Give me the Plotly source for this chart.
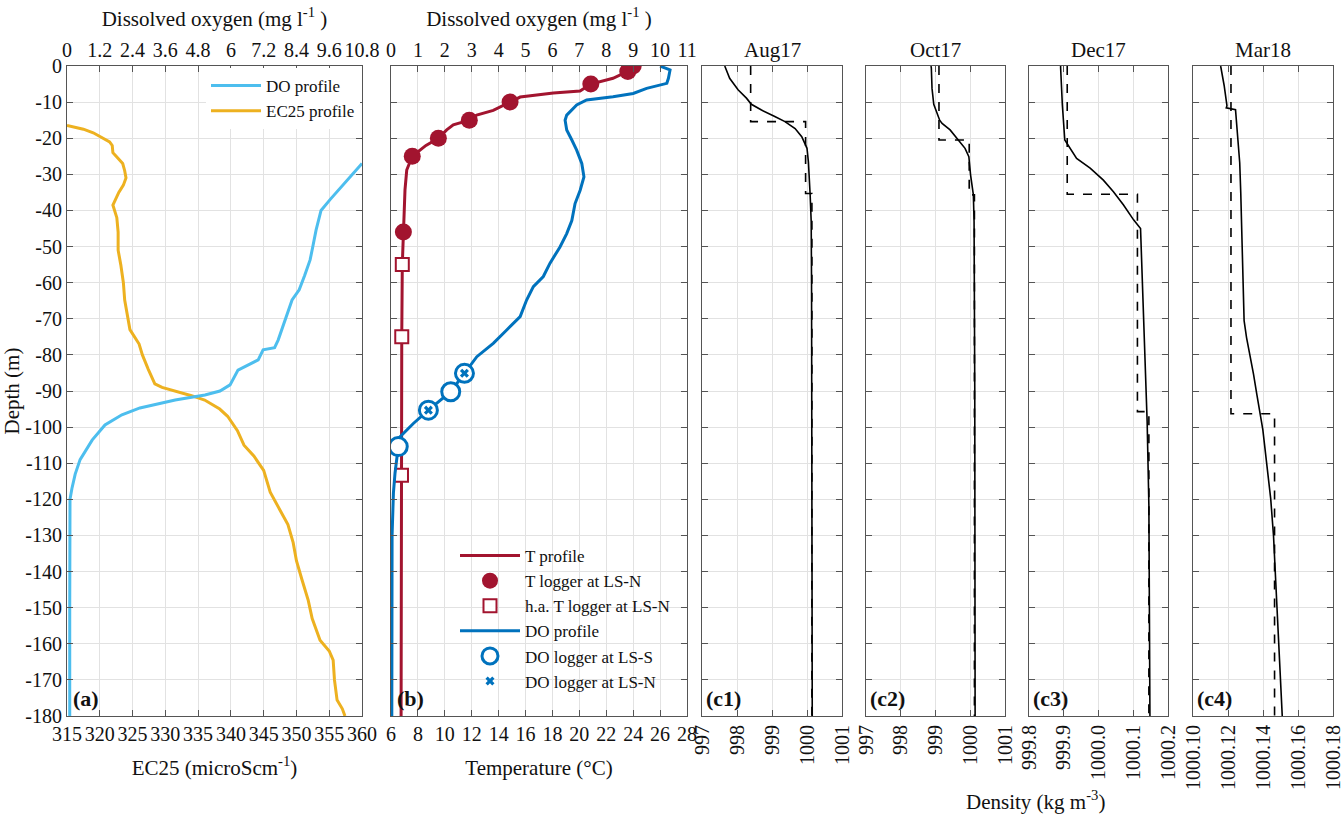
import plotly.graph_objects as go

W, H = 1343, 820
FONT = "Liberation Serif, Times New Roman, Times, serif"

# ---------------- Panel (a) data ----------------
a_do_depth = [-27, -30, -33, -37, -40, -45.4, -50, -53.7, -58, -62, -64.8, -70, -75.9, -78, -78.6,
              -81.4, -84.2, -88.3, -90, -91.1, -92.5, -94.7, -96.6, -99.4, -103.6, -109, -113, -117,
              -120, -150, -180]
a_do_val = [10.8, 10.44, 10.1, 9.63, 9.3, 9.12, 9.0, 8.9, 8.7, 8.5, 8.24, 8.0, 7.73, 7.6, 7.18,
            7.0, 6.26, 5.97, 5.6, 5.05, 3.96, 2.67, 2.01, 1.39, 0.92, 0.48, 0.3, 0.18,
            0.11, 0.1, 0.1]

a_ec_depth = [-16.5, -17.5, -18.5, -20, -21, -22, -24, -25, -27, -29, -31, -33, -35, -38.5, -42,
              -46, -51, -55, -60, -64.8, -70, -73, -77, -80, -84, -88, -89, -90, -91.3, -92.5,
              -95, -97, -101, -105, -108, -112, -118, -123, -127, -132, -137, -142, -148, -153,
              -159, -162, -164.5, -170, -175.6, -178, -180]
a_ec_val = [315, 317.5, 319, 320.5, 321.5, 321.9, 322, 322.5, 323.5, 323.8, 324, 323.6, 322.9, 322,
            322.6, 322.8, 322.8, 323.2, 323.6, 323.8, 324.3, 324.6, 326, 326.5, 327.4, 328.4,
            329.5, 331.5, 334, 336, 338.3, 339.5, 341, 342, 343.5, 345, 346, 347.5, 348.7, 349.5,
            350, 350.8, 351.8, 352.4, 353.6, 355, 355.6, 355.8, 356.2, 357, 357.4]

# ---------------- Panel (b) data ----------------
t_depth = [0, -1.5, -3.4, -5, -6.9, -7.5, -8.6, -10, -12.3, -13.6, -15, -16.3, -17.7, -20, -22,
           -25, -28.8, -34.3, -41.7, -46, -55, -75, -113, -150, -180]
t_val = [23.9, 23.6, 22.5, 20.85, 20.05, 18.07, 15.6, 14.85, 13.6, 12.37, 11.82, 10.63, 10.14,
         9.52, 8.6, 7.58, 7.17, 7.04, 6.97, 6.92, 6.84, 6.8, 6.78, 6.76, 6.75]

tlog_depth = [0, -1.5, -5, -10, -15, -20, -25, -46]
tlog_val = [24.0, 23.6, 20.85, 14.85, 11.82, 9.52, 7.58, 6.92]

hat_depth = [-55, -75, -113.3]
hat_val = [6.84, 6.80, 6.78]

b_do_depth = [0, -1.1, -3.4, -4.8, -6.2, -7.6, -8.5, -9.4, -10.8, -13.6, -15, -17.7, -20.5,
              -23.3, -27, -30.7, -34.4, -38.1, -42.8, -46.4, -50.1, -54.6, -58.3, -61.1, -64.8,
              -69.4, -73.1, -76.8, -80.5, -85.1, -90.2, -95.3, -99, -102.7, -105.4, -112.7,
              -118.2, -130, -180]
b_do_val = [10.0, 10.37, 10.31, 10.25, 9.5, 9.0, 8.25, 7.27, 6.9, 6.53, 6.47, 6.53, 6.72,
            6.9, 7.09, 7.17, 7.03, 6.84, 6.72, 6.53, 6.28, 5.91, 5.66, 5.29, 5.04,
            4.8, 4.3, 3.8, 3.19, 2.73, 2.22, 1.39, 0.83, 0.33, 0.27, 0.15,
            0.09, 0.04, 0.03]

dos_depth = [-85.1, -90.2, -95.3, -105.4]
dos_val = [2.73, 2.22, 1.39, 0.27]
don_depth = [-85.1, -95.3]
don_val = [2.73, 1.39]

# ---------------- Panels (c) data ----------------
c_titles = ["Aug17", "Oct17", "Dec17", "Mar18"]
c_labels = ["(c1)", "(c2)", "(c3)", "(c4)"]

c1_depth = [0, -0.5, -3.4, -6.6, -8.9, -10.6, -12.2, -14, -15.4, -17.3, -19.6, -22.8, -26.5,
            -35.7, -43.1, -60, -89, -180]
c1_rho = [997.65, 997.67, 997.79, 998.03, 998.27, 998.41, 998.70, 999.08, 999.37, 999.66,
          999.85, 1000.0, 1000.04, 1000.09, 1000.12, 1000.13, 1000.14, 1000.15]
c1_layer_bounds = [0, -15.4, -35.3, -180]
c1_layer_rho = [998.39, 999.96, 1000.14]

c2_depth = [0, -0.5, -6.2, -10.6, -15, -15.9, -17.7, -20.5, -22.8, -25.1, -30.2, -35.7, -43.1,
            -89, -180]
c2_rho = [998.87, 998.88, 998.90, 998.95, 999.12, 999.19, 999.42, 999.66, 999.85, 999.96,
          1000.01, 1000.09, 1000.11, 1000.13, 1000.14]
c2_layer_bounds = [0, -20.5, -35.7, -180]
c2_layer_rho = [999.10, 999.97, 1000.12]

c3_depth = [0, -0.5, -10.8, -14.5, -20.5, -25.6, -28.3, -31.6, -34.8, -38.5, -42.6, -45, -57,
            -70.8, -89.3, -98.5, -121.6, -150, -180]
c3_rho = [999.891, 999.891, 999.896, 999.899, 999.903, 999.937, 999.976, 1000.014, 1000.043,
          1000.072, 1000.101, 1000.121, 1000.125, 1000.130, 1000.135, 1000.140, 1000.145,
          1000.147, 1000.148]
c3_layer_bounds = [0, -35.5, -95.7, -180]
c3_layer_rho = [999.910, 1000.112, 1000.145]

c4_depth = [0, -5.4, -11, -11.6, -12.1, -14.7, -20.3, -26.8, -35.2, -47.3, -61.2, -70.5, -75.2,
            -79.8, -85.4, -91, -95.6, -98.4, -100.7, -107.7, -114.2, -119.8, -130, -140, -150,
            -160, -170, -180]
c4_rho = [1000.1158, 1000.1178, 1000.1194, 1000.1190, 1000.1243, 1000.1247, 1000.1257,
          1000.1267, 1000.1273, 1000.1280, 1000.1286, 1000.1292, 1000.1306, 1000.1326,
          1000.1346, 1000.1365, 1000.1379, 1000.1391, 1000.1399, 1000.1415, 1000.1431,
          1000.1444, 1000.146, 1000.147, 1000.148, 1000.149, 1000.150, 1000.151]
c4_layer_bounds = [0, -96.3, -180]
c4_layer_rho = [1000.1217, 1000.1466]

c_ranges = [[997, 1001.0001], [997, 1001.0001], [999.8, 1000.20001], [1000.10, 1000.180001]]
c_tickvals = [[997, 998, 999, 1000, 1001], [997, 998, 999, 1000, 1001],
              [999.8, 999.9, 1000.0, 1000.1, 1000.2],
              [1000.10, 1000.12, 1000.14, 1000.16, 1000.18]]
c_ticktext = [["997", "998", "999", "1000", "1001"], ["997", "998", "999", "1000", "1001"],
              ["999.8", "999.9", "1000.0", "1000.1", "1000.2"],
              ["1000.10", "1000.12", "1000.14", "1000.16", "1000.18"]]

depth_ticks = list(range(0, -181, -10))
depth_text = [str(v) for v in depth_ticks]

ec_ticks = list(range(315, 361, 5))
a_do_ticks = [0, 1.2, 2.4, 3.6, 4.8, 6, 7.2, 8.4, 9.6, 10.8]
a_do_text = ["0", "1.2", "2.4", "3.6", "4.8", "6", "7.2", "8.4", "9.6", "10.8"]
temp_ticks = list(range(6, 29, 2))
b_do_ticks = list(range(0, 12))

# ---------------- styling ----------------
BLUE_L = "#4DBEEE"
ORANGE = "#EDB120"
RED = "#A2142F"
BLUE = "#0072BD"
AXC = "#555555"
GRIDC = "#e2e2e2"
TXT = "#111111"

def dom_x(x0, x1):
    return [x0 / W, x1 / W]

Y_DOM = [1 - 716 / H, 1 - 66 / H]
X_DOMS = [dom_x(67, 362), dom_x(391, 687), dom_x(702, 842), dom_x(866, 1005),
          dom_x(1029, 1168), dom_x(1193, 1333)]

def step_line(bounds, rho):
    xs, ys = [], []
    for i, r in enumerate(rho):
        xs += [r, r]
        ys += [bounds[i], bounds[i + 1]]
    return xs, ys

fig = go.Figure()

# Panel (a)
fig.add_trace(go.Scatter(x=a_do_val, y=a_do_depth, xaxis="x2", yaxis="y", mode="lines",
                         line=dict(color=BLUE_L, width=3), name="DO profile", legend="legend"))
fig.add_trace(go.Scatter(x=a_ec_val, y=a_ec_depth, xaxis="x", yaxis="y", mode="lines",
                         line=dict(color=ORANGE, width=3), name="EC25 profile", legend="legend"))

# Panel (b)
fig.add_trace(go.Scatter(x=t_val, y=t_depth, xaxis="x3", yaxis="y2", mode="lines",
                         line=dict(color=RED, width=3), name="T profile", legend="legend2"))
fig.add_trace(go.Scatter(x=tlog_val, y=tlog_depth, xaxis="x3", yaxis="y2", mode="markers",
                         marker=dict(color=RED, size=17, symbol="circle"),
                         name="T logger at LS-N", legend="legend2"))
fig.add_trace(go.Scatter(x=hat_val, y=hat_depth, xaxis="x3", yaxis="y2", mode="markers",
                         marker=dict(color="white", size=13, symbol="square",
                                     line=dict(color=RED, width=2)),
                         name="h.a. T logger at LS-N", legend="legend2"))
fig.add_trace(go.Scatter(x=b_do_val, y=b_do_depth, xaxis="x4", yaxis="y2", mode="lines",
                         line=dict(color=BLUE, width=3), name="DO profile", legend="legend2"))
fig.add_trace(go.Scatter(x=dos_val, y=dos_depth, xaxis="x4", yaxis="y2", mode="markers",
                         marker=dict(color="white", size=18, symbol="circle",
                                     line=dict(color=BLUE, width=3)),
                         name="DO logger at LS-S", legend="legend2"))
fig.add_trace(go.Scatter(x=don_val, y=don_depth, xaxis="x4", yaxis="y2", mode="markers",
                         marker=dict(color=BLUE, size=8, symbol="x",
                                     line=dict(width=0)),
                         name="DO logger at LS-N", legend="legend2"))

# Panels (c)
c_solid = [(c1_rho, c1_depth), (c2_rho, c2_depth), (c3_rho, c3_depth), (c4_rho, c4_depth)]
c_layers = [(c1_layer_bounds, c1_layer_rho), (c2_layer_bounds, c2_layer_rho),
            (c3_layer_bounds, c3_layer_rho), (c4_layer_bounds, c4_layer_rho)]
for i in range(4):
    xa = "x%d" % (5 + i)
    ya = "y%d" % (3 + i)
    lx, ly = step_line(*c_layers[i])
    fig.add_trace(go.Scatter(x=lx, y=ly, xaxis=xa, yaxis=ya, mode="lines",
                             line=dict(color="black", width=1.6, dash="dash"), showlegend=False))
    fig.add_trace(go.Scatter(x=c_solid[i][0], y=c_solid[i][1], xaxis=xa, yaxis=ya, mode="lines",
                             line=dict(color="black", width=1.6), showlegend=False))

tickfont = dict(family=FONT, size=20, color=TXT)
titlefont = dict(family=FONT, size=21, color=TXT)

common_axis = dict(showline=True, linecolor=AXC, linewidth=1, ticks="inside", ticklen=6,
                   tickcolor=AXC, tickfont=tickfont, zeroline=False, gridcolor=GRIDC,
                   gridwidth=1, automargin=False, ticklabeloverflow="allow")

layout = dict(
    width=W, height=H, margin=dict(l=0, r=0, t=0, b=0, autoexpand=False),
    paper_bgcolor="white", plot_bgcolor="white",
    font=dict(family=FONT, size=19, color=TXT),
)

# y axes
for j in range(6):
    key = "yaxis" if j == 0 else "yaxis%d" % (j + 1)
    anchor = ["x", "x3", "x5", "x6", "x7", "x8"][j]
    ax = dict(common_axis, domain=Y_DOM, anchor=anchor, range=[-180, 0],
              tickvals=depth_ticks, ticktext=depth_text, mirror="ticks", showgrid=True,
              showticklabels=(j == 0))
    if j == 0:
        ax["title"] = dict(text="Depth (m)", font=titlefont, standoff=10)
    layout[key] = ax

# panel (a) axes
layout["xaxis"] = dict(common_axis, domain=X_DOMS[0], anchor="y", range=[315, 360],
                       tickvals=ec_ticks, mirror=True, showgrid=True,
                       title=dict(text="EC25 (microScm<sup>-1</sup>)", font=titlefont, standoff=16))
layout["xaxis2"] = dict(common_axis, overlaying="x", side="top", anchor="y", range=[0, 10.8],
                        tickvals=a_do_ticks, ticktext=a_do_text, showgrid=False,
                        title=dict(text="Dissolved oxygen (mg l<sup>-1</sup> )", font=titlefont,
                                   standoff=6))
# panel (b) axes
layout["xaxis3"] = dict(common_axis, domain=X_DOMS[1], anchor="y2", range=[6, 28],
                        tickvals=temp_ticks, mirror=True, showgrid=True,
                        title=dict(text="Temperature (°C)", font=titlefont, standoff=16))
layout["xaxis4"] = dict(common_axis, overlaying="x3", side="top", anchor="y2", range=[0, 11],
                        tickvals=b_do_ticks, showgrid=False,
                        title=dict(text="Dissolved oxygen (mg l<sup>-1</sup> )", font=titlefont,
                                   standoff=6))
# panels (c) axes
for i in range(4):
    layout["xaxis%d" % (5 + i)] = dict(common_axis, domain=X_DOMS[2 + i], anchor="y%d" % (3 + i),
                                       range=c_ranges[i], tickvals=c_tickvals[i],
                                       ticktext=c_ticktext[i], tickangle=-90, mirror="ticks",
                                       showgrid=True)

layout["legend"] = dict(x=360 / W, y=1 - 68 / H, xanchor="right", yanchor="top",
                        bgcolor="rgba(255,255,255,1)", borderwidth=0,
                        font=dict(family=FONT, size=17, color=TXT), tracegroupgap=0,
                        itemwidth=50)
layout["legend2"] = dict(x=455 / W, y=1 - 538 / H, xanchor="left", yanchor="top",
                         bgcolor="rgba(255,255,255,0)", borderwidth=0,
                         font=dict(family=FONT, size=17, color=TXT), tracegroupgap=0,
                         itemwidth=60)

annotations = []
panel_axes = [("x", "y", "(a)"), ("x3", "y2", "(b)")] + \
             [("x%d" % (5 + i), "y%d" % (3 + i), c_labels[i]) for i in range(4)]
for xa, ya, lab in panel_axes:
    annotations.append(dict(text="<b>%s</b>" % lab, xref=xa + " domain", yref=ya + " domain",
                            x=0.015, y=0.005, xanchor="left", yanchor="bottom", showarrow=False,
                            font=dict(family=FONT, size=22, color=TXT)))
for i in range(4):
    annotations.append(dict(text=c_titles[i], xref="x%d domain" % (5 + i),
                            yref="y%d domain" % (3 + i), x=0.5, y=1, yshift=2,
                            xanchor="center", yanchor="bottom", showarrow=False,
                            font=dict(family=FONT, size=21, color=TXT)))
annotations.append(dict(text="Density (kg m<sup>-3</sup>)", xref="paper", yref="paper",
                        x=1035 / W, y=1 - 800 / H, xanchor="center", yanchor="middle",
                        showarrow=False, font=dict(family=FONT, size=21, color=TXT)))
layout["annotations"] = annotations

fig.update_layout(**layout)
fig.write_html("out.html")
